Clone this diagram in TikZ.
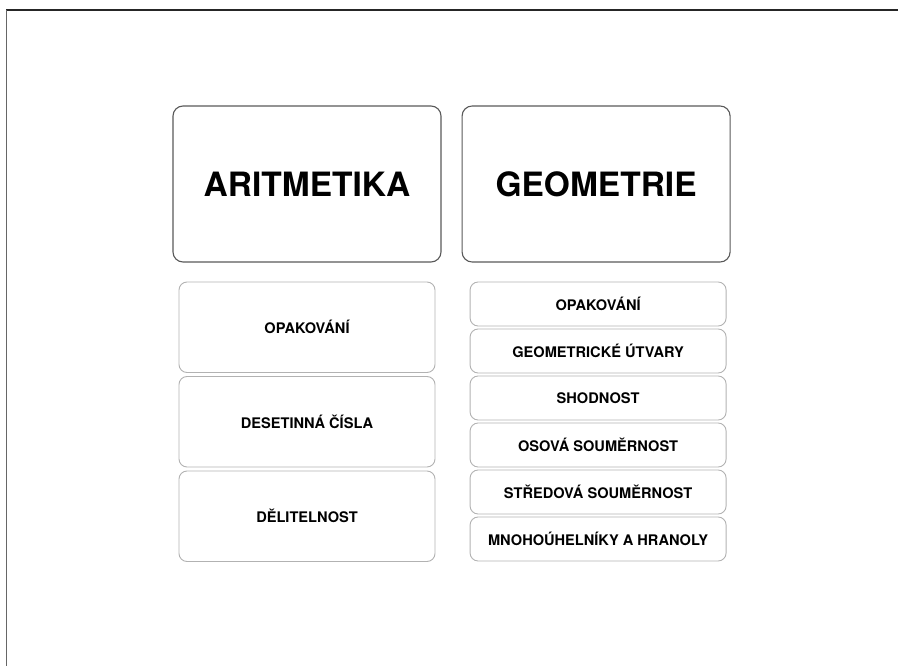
\documentclass[tikz,border=0pt]{standalone}
\usepackage{fontspec}
\setmainfont{TeX Gyre Heros}
\usetikzlibrary{positioning}

\begin{document}
\begin{tikzpicture}[x=1pt,y=-1pt,node distance=2.1pt,
  subject/.style={draw=black!65,line width=1.1pt,rounded corners=10pt,minimum width=268pt,minimum height=156pt,inner sep=0pt,font=\fontsize{33.5}{36}\selectfont\bfseries},
  topic/.style={draw=black!30,line width=0.9pt,rounded corners=8pt,minimum width=256pt,inner sep=0pt,font=\fontsize{14.6}{16}\selectfont\bfseries},
  chapter/.style={topic,minimum height=90.5pt},
  lesson/.style={topic,minimum height=44pt}]
\useasboundingbox (0,0) rectangle (898,666);
% frame
\draw[black!85,line width=2pt] (6,10) -- (898,10);
\draw[black!60,line width=1.4pt] (6.5,10) -- (6.5,666);

\node[subject] (arit) at (307,184) {ARITMETIKA};
\node[subject] (geo) [right=20pt of arit] {GEOMETRIE};

% arithmetic chapters
\node[chapter] (a1) [below=19pt of arit] {OPAKOVÁNÍ};
\node[chapter] (a2) [below=3.1pt of a1] {DESETINNÁ ČÍSLA};
\node[chapter] (a3) [below=3.1pt of a2] {DĚLITELNOST};

% geometry chapters
\node[lesson] (g1) [below=19pt of geo,xshift=2pt] {OPAKOVÁNÍ};
\node[lesson] (g2) [below=of g1] {GEOMETRICKÉ ÚTVARY};
\node[lesson] (g3) [below=of g2] {SHODNOST};
\node[lesson] (g4) [below=of g3] {OSOVÁ SOUMĚRNOST};
\node[lesson] (g5) [below=of g4] {STŘEDOVÁ SOUMĚRNOST};
\node[lesson] (g6) [below=of g5] {MNOHOÚHELNÍKY A HRANOLY};
\end{tikzpicture}
\end{document}
